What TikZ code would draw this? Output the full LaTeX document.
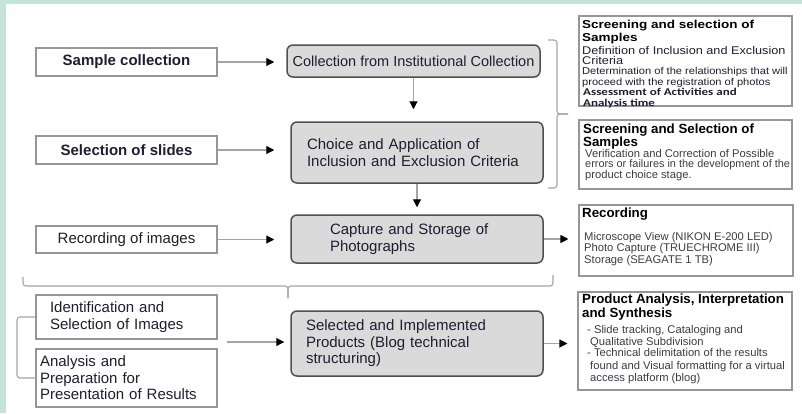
\documentclass[tikz,border=0pt]{standalone}
\usepackage{fontspec}
\setmainfont{Liberation Sans}
\newfontfamily\carl{Carlito}
\usetikzlibrary{arrows.meta}
\definecolor{bggreen}{RGB}{197,227,216}
\definecolor{boxgray}{RGB}{218,218,218}
\definecolor{edgedark}{RGB}{80,80,80}
\definecolor{edgelight}{RGB}{150,150,150}
\definecolor{linegray}{RGB}{165,165,165}
\definecolor{txt}{RGB}{30,30,50}
\definecolor{btxt}{RGB}{60,60,70}
\newcommand{\vsq}[2]{\scalebox{1}[#1]{#2}}
\begin{document}
\begin{tikzpicture}[x=1pt,y=-1pt,
  lbox/.style={draw=edgelight, line width=1.1pt, fill=white, minimum width=181pt, text=txt, inner sep=0pt},
  gbox/.style={draw=edgedark, line width=1.5pt, fill=boxgray, rounded corners=6pt, text=txt, inner ysep=0pt},
  rbox/.style={draw=edgelight, line width=1.1pt, fill=white, inner sep=0pt},
  arr/.style={draw=linegray, line width=1.1pt, -{Triangle[length=8pt,width=8pt,fill=black,color=black]}},
  brc/.style={draw=linegray, line width=1.1pt, rounded corners=3pt},
  hd/.style={anchor=base west, inner sep=0pt, text=black, font=\fontsize{13.3}{15}\selectfont\bfseries},
  bd/.style={anchor=base west, inner sep=0pt, text=btxt, font=\fontsize{11.2}{12.5}\selectfont},
  b1/.style={anchor=base west, inner sep=0pt, text=txt}
]
\fill[bggreen] (0,0) rectangle (802,413);
\fill[white] (6,4) rectangle (802,413);
\useasboundingbox (0,0) rectangle (802,413);

% left boxes
\node[lbox, minimum height=28pt, font=\fontsize{15}{17}\selectfont\bfseries] (sc) at (126.5,62) {Sample collection};
\node[lbox, minimum height=28pt, font=\fontsize{15}{17}\selectfont\bfseries] (ss) at (126.5,150) {Selection of slides};
\node[lbox, minimum height=27pt, font=\fontsize{15}{17}\selectfont] (ri) at (126.5,239.5) {Recording of images};
\node[lbox, minimum height=44pt, align=left, text width=153pt, inner xsep=14pt, font=\fontsize{15}{17}\selectfont] (is) at (126.5,317) {Identification and\\Selection of Images};
\node[lbox, minimum height=58pt, align=left, text width=173pt, inner xsep=4pt, font=\fontsize{15}{16.5}\selectfont] (ap) at (126.5,378) {Analysis and\\Preparation for\\Presentation of Results};

% gray boxes
\node[gbox, minimum width=253pt, minimum height=32pt, inner xsep=0pt, font=\fontsize{14.5}{17}\selectfont] (cic) at (413.5,61) {Collection from Institutional Collection};
\node[gbox, text width=220pt, inner xsep=16pt, minimum height=61pt, align=left, font=\fontsize{15}{17}\selectfont] (ch) at (417,152.5) {Choice and Application of\\Inclusion and Exclusion Criteria};
\node[gbox, text width=174pt, inner xsep=39pt, minimum height=48pt, align=left, font=\fontsize{15}{17}\selectfont] (cap) at (417,239) {Capture and Storage of\\Photographs};
\node[gbox, text width=222pt, inner xsep=15pt, minimum height=65pt, align=left, font=\fontsize{15}{16.5}\selectfont] (sel) at (417,343.5) {Selected and Implemented\\Products (Blog technical\\structuring)};

% right boxes
\node[rbox, minimum width=213pt, minimum height=90pt] (r1) at (685.5,61) {};
\node[rbox, minimum width=213pt, minimum height=69pt] (r2) at (685.5,154.5) {};
\node[rbox, minimum width=214pt, minimum height=71pt] (r3) at (686,240.5) {};
\node[rbox, minimum width=214pt, minimum height=98pt] (r4) at (685,341) {};

% texts of box 1
\node[b1, font=\fontsize{13.5}{15}\selectfont\bfseries, text=black] (t1a) at (582,28) {\vsq{0.85}{Screening and selection of}};
\node[b1, font=\fontsize{13.5}{15}\selectfont\bfseries, text=black] (t1b) at (582,41) {\vsq{0.85}{Samples}};
\node[b1, font=\fontsize{12.7}{13}\selectfont] (t1c) at (582,54.5) {\vsq{0.88}{Definition of Inclusion and Exclusion}};
\node[b1, font=\fontsize{12.7}{13}\selectfont] (t1d) at (582,64.5) {\vsq{0.88}{Criteria}};
\node[b1, font=\fontsize{11.1}{12}\selectfont] (t1e) at (582,74.5) {\vsq{0.9}{Determination of the relationships that will}};
\node[b1, font=\fontsize{11.1}{12}\selectfont] (t1f) at (582,85) {\vsq{0.9}{proceed with the registration of photos}};
\node[b1, font=\fontsize{13}{14}\selectfont\carl\bfseries] (t1g) at (583,95) {\vsq{0.8}{Assessment of Activities and}};
\node[b1, font=\fontsize{13}{14}\selectfont\carl\bfseries] (t1h) at (583,106) {\vsq{0.8}{Analysis time}};

% texts of box 2
\node[hd] (t2a) at (583,133) {Screening and Selection of};
\node[hd] (t2b) at (583,146) {Samples};
\node[bd] (t2c) at (585,157) {Verification and Correction of Possible};
\node[bd, font=\fontsize{10.9}{12.5}\selectfont] (t2d) at (585,167.5) {errors or failures in the development of the};
\node[bd] (t2e) at (585,178) {product choice stage.};

% texts of box 3
\node[hd] (t3a) at (582,217) {Recording};
\node[bd] (t3b) at (584,240) {Microscope View (NIKON E-200 LED)};
\node[bd] (t3c) at (584,251.5) {Photo Capture (TRUECHROME III)};
\node[bd] (t3d) at (584,263.5) {Storage (SEAGATE 1 TB)};

% texts of box 4
\node[hd] (t4a) at (582,303) {Product Analysis, Interpretation};
\node[hd] (t4b) at (582,317) {and Synthesis};
\node[bd] (t4c) at (587,333) {- Slide tracking, Cataloging and};
\node[bd] (t4d) at (590,345) {Qualitative Subdivision};
\node[bd] (t4e) at (587,356.5) {- Technical delimitation of the results};
\node[bd] (t4f) at (590,369) {found and Visual formatting for a virtual};
\node[bd] (t4g) at (590,381.5) {access platform (blog)};

% arrows
\draw[arr, shorten >=12pt] (sc.east) -- (sc.east -| cic.west);
\draw[arr, shorten >=16pt] (ss.east) -- (ss.east -| ch.west);
\draw[arr, shorten >=16pt] (ri.east) -- (ri.east -| cap.west);
\draw[arr, shorten >=12pt] (cic.south) -- (cic.south |- ch.north);
\draw[arr, shorten >=7pt] (ch.south) -- (ch.south |- cap.north);
\draw[arr, shorten >=10pt] (cap.east) -- (cap.east -| r3.west);
\coordinate (a0) at (227,342);
\draw[arr, shorten >=6pt] (a0) -- (a0 -| sel.west);
\draw[arr, shorten >=10pt] (sel.east) -- (sel.east -| r4.west);

% braces
\draw[brc] (548,40) -- (557,40) -- (557,114) -- (568,114);
\draw[brc] (568,114) -- (557,114) -- (557,188) -- (548,188);
\draw[brc] (23,277) -- (23,286) -- (288,286) -- (288,298);
\draw[brc] (288,298) -- (288,286) -- (553,286) -- (553,275);
\draw[brc] (is.west) -- (17,317) -- (17,378) -- (ap.west);
\end{tikzpicture}
\end{document}
